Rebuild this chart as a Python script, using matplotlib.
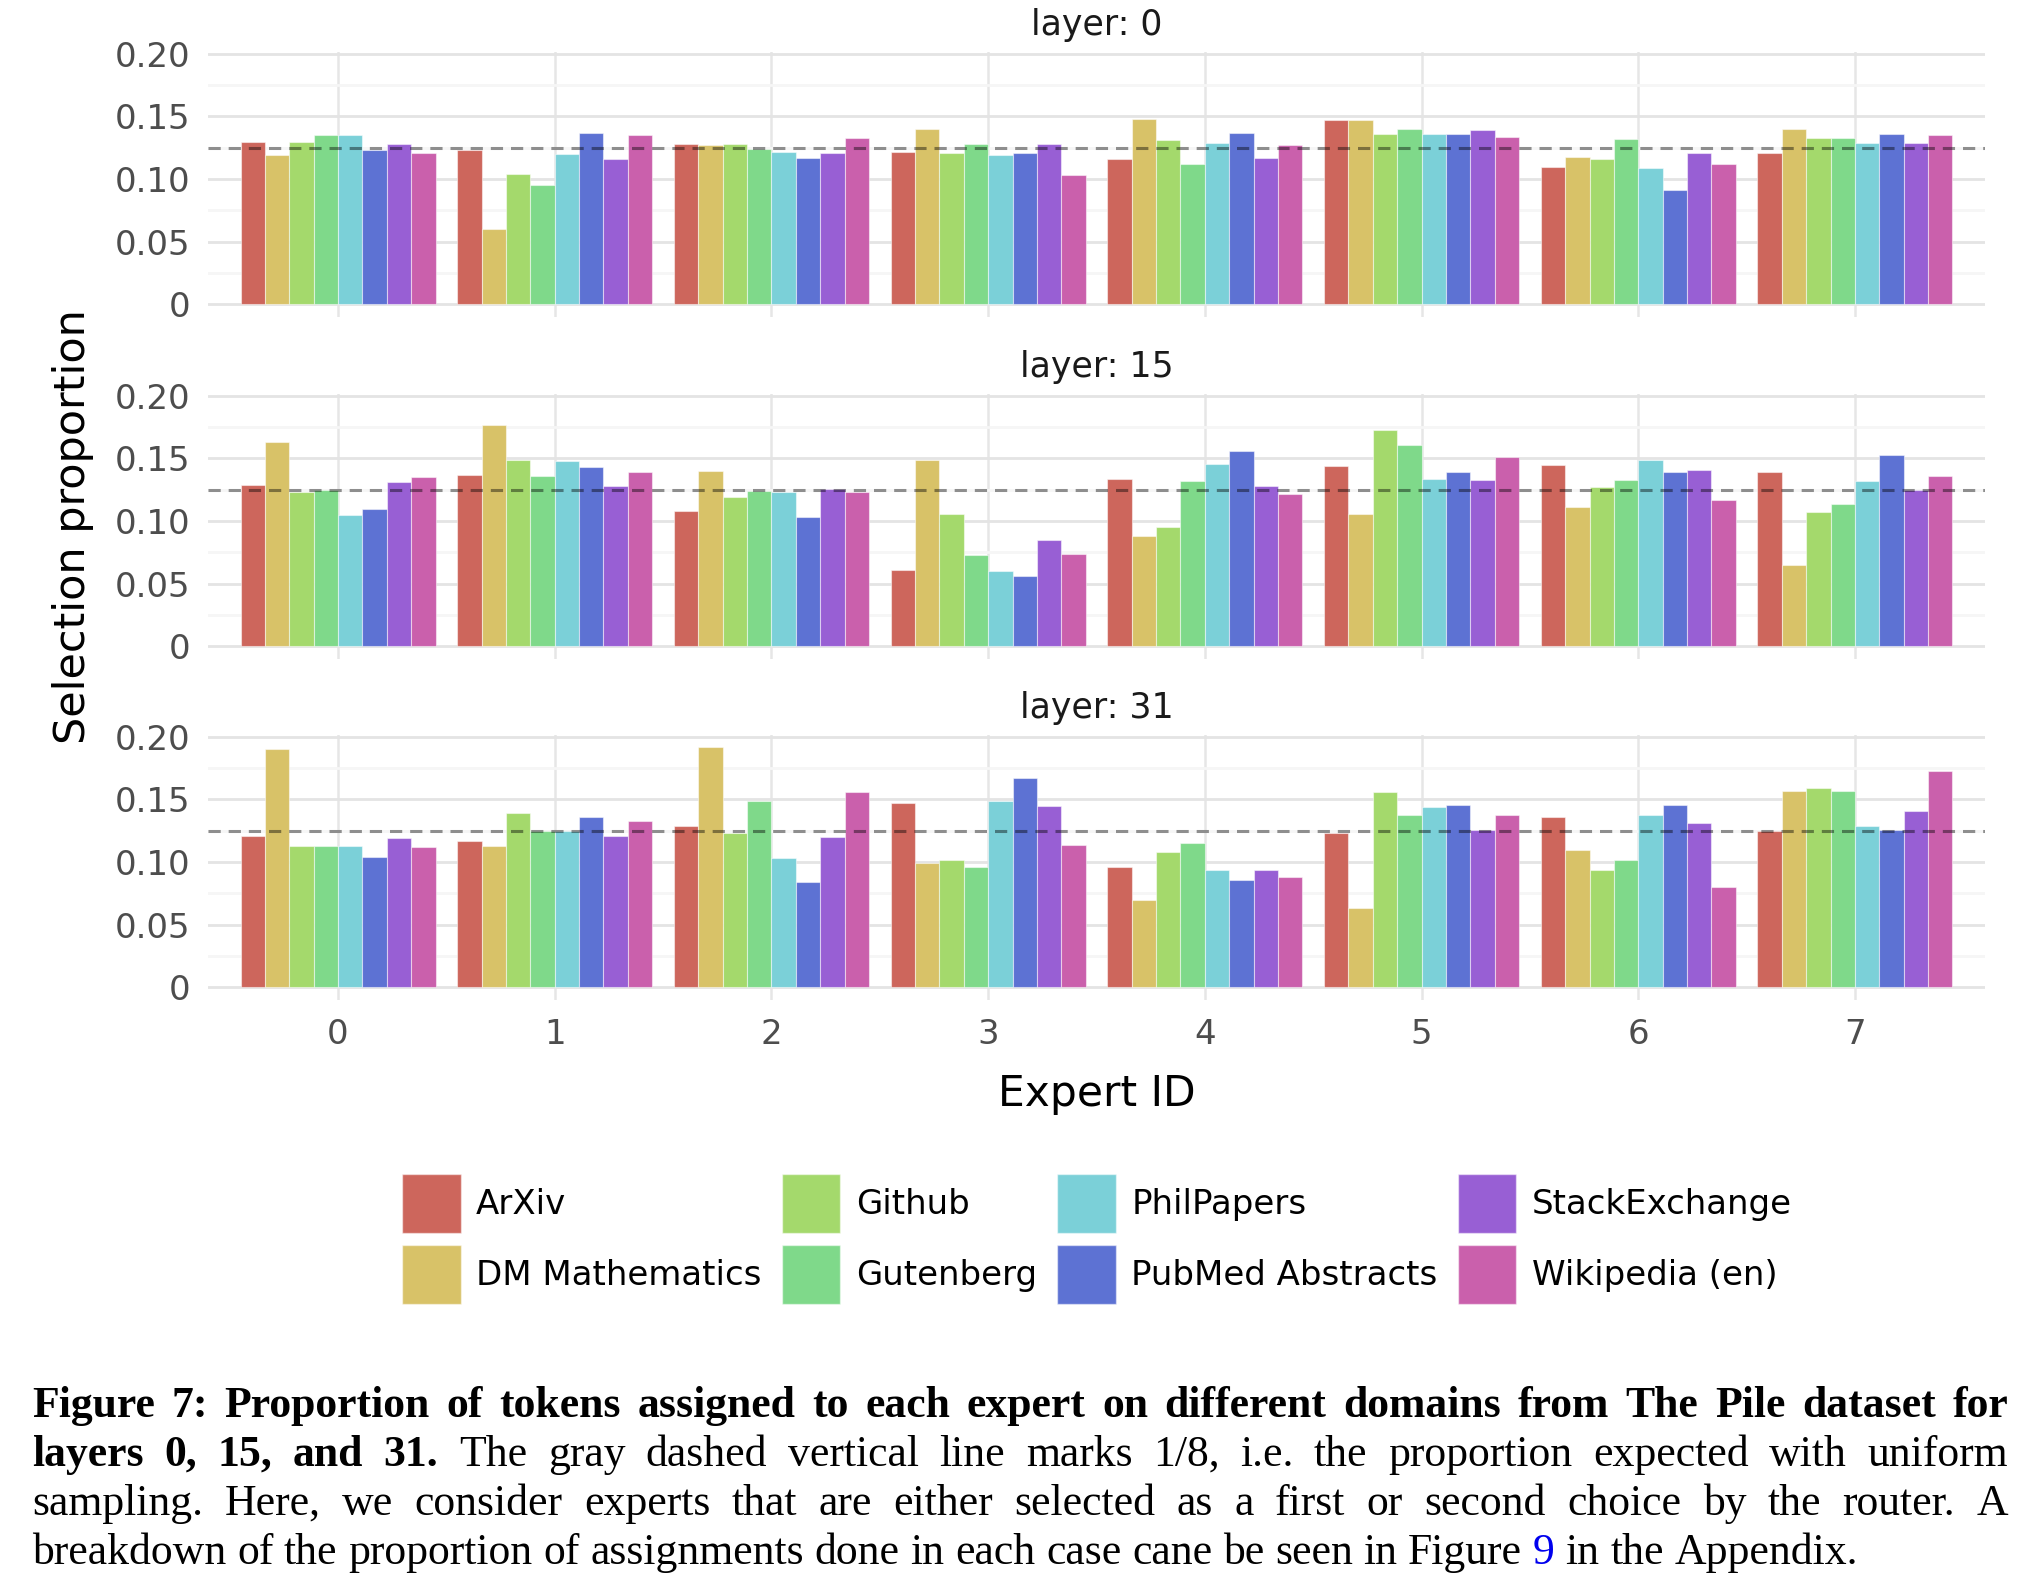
import numpy as np
import matplotlib
matplotlib.use("Agg")
import matplotlib.pyplot as plt
from matplotlib.patches import Patch
from matplotlib.ticker import MultipleLocator

domains = ['ArXiv', 'DM Mathematics', 'Github', 'Gutenberg',
           'PhilPapers', 'PubMed Abstracts', 'StackExchange', 'Wikipedia (en)']
colors = ['#cd665c', '#d8c268', '#a4d96c', '#7fd98a',
          '#7bd0d8', '#5d72d3', '#985fd4', '#ca60ac']
experts = np.arange(8)
layers = [0, 15, 31]

# rows = domains, columns = expert 0..7
layer0 = [
    [0.130, 0.123, 0.128, 0.122, 0.116, 0.147, 0.110, 0.121],
    [0.119, 0.060, 0.127, 0.140, 0.148, 0.147, 0.118, 0.140],
    [0.130, 0.104, 0.128, 0.121, 0.131, 0.136, 0.116, 0.133],
    [0.135, 0.095, 0.124, 0.128, 0.112, 0.140, 0.132, 0.133],
    [0.135, 0.120, 0.122, 0.119, 0.129, 0.136, 0.109, 0.129],
    [0.123, 0.137, 0.117, 0.121, 0.137, 0.136, 0.091, 0.136],
    [0.128, 0.116, 0.121, 0.128, 0.117, 0.139, 0.121, 0.129],
    [0.121, 0.135, 0.133, 0.103, 0.127, 0.134, 0.112, 0.135],
]
layer15 = [
    [0.129, 0.137, 0.108, 0.061, 0.134, 0.144, 0.145, 0.139],
    [0.163, 0.177, 0.140, 0.149, 0.088, 0.106, 0.111, 0.065],
    [0.123, 0.149, 0.119, 0.106, 0.095, 0.173, 0.127, 0.107],
    [0.125, 0.136, 0.124, 0.073, 0.132, 0.161, 0.133, 0.114],
    [0.105, 0.148, 0.123, 0.060, 0.146, 0.134, 0.149, 0.132],
    [0.110, 0.143, 0.103, 0.056, 0.156, 0.139, 0.139, 0.153],
    [0.131, 0.128, 0.126, 0.085, 0.128, 0.133, 0.141, 0.125],
    [0.135, 0.139, 0.123, 0.074, 0.122, 0.151, 0.117, 0.136],
]
layer31 = [
    [0.121, 0.117, 0.129, 0.147, 0.096, 0.123, 0.136, 0.125],
    [0.190, 0.113, 0.192, 0.099, 0.070, 0.063, 0.110, 0.157],
    [0.113, 0.139, 0.123, 0.102, 0.108, 0.156, 0.094, 0.159],
    [0.113, 0.125, 0.149, 0.096, 0.115, 0.138, 0.102, 0.157],
    [0.113, 0.125, 0.103, 0.149, 0.094, 0.144, 0.138, 0.129],
    [0.104, 0.136, 0.084, 0.167, 0.086, 0.146, 0.146, 0.126],
    [0.119, 0.121, 0.120, 0.145, 0.094, 0.126, 0.131, 0.141],
    [0.112, 0.133, 0.156, 0.114, 0.088, 0.138, 0.080, 0.173],
]
uniform = 1 / 8
ytick_vals = [0, 0.05, 0.10, 0.15, 0.20]
ytick_labels = ['0', '0.05', '0.10', '0.15', '0.20']

W, H = 2040, 1596
fig = plt.figure(figsize=(W / 100, H / 100), dpi=100)

left, width = 208 / W, (1985 - 208) / W
panel_tops = [52, 394, 735]
panel_h = 265
bw = 0.9 / len(domains)

axes = []
for k, (layer, data) in enumerate(zip(layers, [layer0, layer15, layer31])):
    bottom = 1 - (panel_tops[k] + panel_h) / H
    ax = fig.add_axes([left, bottom, width, panel_h / H])
    axes.append(ax)
    for i, d in enumerate(domains):
        ax.bar(experts + (i - 3.5) * bw, data[i], width=bw, color=colors[i],
               edgecolor=(1, 1, 1, 0.5), linewidth=0.8, zorder=3)
    ax.axhline(uniform, color='black', alpha=0.42, lw=2.2,
               dashes=(4, 2.6), zorder=4)
    ax.set_xlim(-0.6, 7.6)
    ax.set_ylim(-0.0101, 0.2015)
    ax.set_yticks(ytick_vals)
    ax.set_yticklabels(ytick_labels)
    ax.yaxis.set_minor_locator(MultipleLocator(0.025))
    ax.set_xticks(experts)
    ax.grid(which='major', axis='y', color='#e4e4e4', lw=2.0, zorder=0)
    ax.grid(which='minor', axis='y', color='#f6f6f6', lw=2.0, zorder=0)
    ax.grid(which='major', axis='x', color='#e6e6e6', lw=1.8, zorder=0)
    for s in ax.spines.values():
        s.set_visible(False)
    ax.tick_params(which='both', length=0, labelsize=24.5, colors='#4d4d4d', pad=13)
    if k < 2:
        ax.tick_params(axis='x', labelbottom=False)
    ax.set_title(f'layer: {layer}', fontsize=25, color='#1a1a1a', pad=12)

axes[2].set_xlabel('Expert ID', fontsize=30.5, color='black', labelpad=16)
fig.text(73 / W, 1 - 527 / H, 'Selection proportion', rotation=90,
         fontsize=31, ha='center', va='center')

handles = [Patch(facecolor=c, edgecolor=(1, 1, 1, 0.5)) for c in colors]
fig.legend(handles, domains, ncol=4, loc='center', bbox_to_anchor=(1097 / W, 1 - 1239 / H),
           frameon=False, fontsize=24.5, handlelength=1.72, handleheight=2.3,
           handletextpad=0.45, columnspacing=0.6, labelspacing=0.36)

# caption, justified like in the paper
cap_lines = [
    [('Figure 7: Proportion of tokens assigned to each expert on different domains from The Pile dataset for', 'bold', 'black')],
    [('layers 0, 15, and 31.', 'bold', 'black'),
     ('The gray dashed vertical line marks 1/8, i.e. the proportion expected with uniform', 'normal', 'black')],
    [('sampling. Here, we consider experts that are either selected as a first or second choice by the router. A', 'normal', 'black')],
    [('breakdown of the proportion of assignments done in each case cane be seen in Figure', 'normal', 'black'),
     ('9', 'normal', '#0000ee'),
     ('in the Appendix.', 'normal', 'black')],
]
x0 = 32
line_ends = [2008, 2008, 2008, 1858]
base0, step = 1417, 49
renderer = fig.canvas.get_renderer()
for li, segs in enumerate(cap_lines):
    words = []
    for txt, wt, col in segs:
        for w in txt.split():
            words.append((w, wt, col))
    y = 1 - (base0 + li * step) / H
    items = []
    for w, wt, col in words:
        t = fig.text(0, y, w, fontsize=31.5, fontweight=wt, color=col,
                     family='Liberation Serif', va='baseline', ha='left')
        items.append(t)
    widths = [t.get_window_extent(renderer).width for t in items]
    gap = (line_ends[li] - x0 - sum(widths)) / (len(items) - 1)
    x = x0
    for t, wdt in zip(items, widths):
        t.set_x(x / W)
        x += wdt + gap

fig.savefig('out.png', dpi=100)
